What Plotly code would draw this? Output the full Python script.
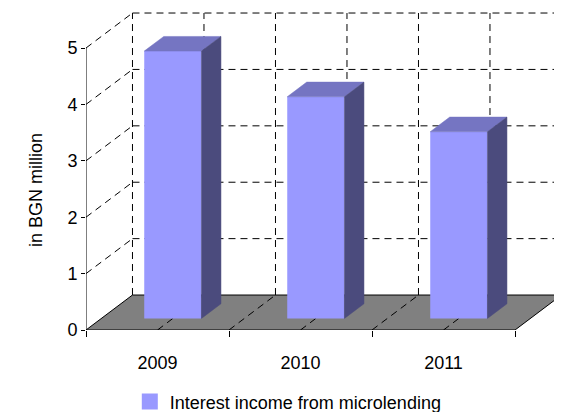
import plotly.graph_objects as go

# Data
years = ["2009", "2010", "2011"]
income = [4.74, 3.93, 3.31]   # interest income, BGN million
y_ticks = [0, 1, 2, 3, 4, 5]

# pseudo 3D projection (oblique): depth 1 shifts by DX categories / DY value units
DX = 0.325
DY = 0.62
D0, D1 = 0.33, 0.75      # bar front / back depth
BAR_W = 0.4

front_col = "#9999FF"
top_col = "#7575C2"
side_col = "#4B4B7D"
font = "Liberation Sans, Arial, sans-serif"
series_name = "Interest income from microlending"

n = len(years)
pos = list(range(n))
ymax = max(y_ticks)

fig = go.Figure()

# front faces of the bars
fig.add_bar(
    x=[i + 0.5 + D0 * DX for i in pos],
    y=income,
    base=D0 * DY,
    width=BAR_W,
    marker_color=front_col,
    marker_line_width=0,
    name=series_name,
    showlegend=False,
    hoverinfo="skip",
)

# top and side faces
for i, v in zip(pos, income):
    xl, xr = i + 0.5 - BAR_W / 2, i + 0.5 + BAR_W / 2
    fig.add_scatter(
        x=[xl + D0 * DX, xr + D0 * DX, xr + D1 * DX, xl + D1 * DX, xl + D0 * DX],
        y=[v + D0 * DY, v + D0 * DY, v + D1 * DY, v + D1 * DY, v + D0 * DY],
        mode="lines", fill="toself", fillcolor=top_col,
        line=dict(color=top_col, width=0.5), showlegend=False, hoverinfo="skip",
    )
    fig.add_scatter(
        x=[xr + D0 * DX, xr + D0 * DX, xr + D1 * DX, xr + D1 * DX, xr + D0 * DX],
        y=[D0 * DY, v + D0 * DY, v + D1 * DY, D1 * DY, D0 * DY],
        mode="lines", fill="toself", fillcolor=side_col,
        line=dict(color=side_col, width=0.5), showlegend=False, hoverinfo="skip",
    )

# legend entry with a bigger square key
fig.add_scatter(
    x=[None], y=[None], mode="markers", name=series_name,
    marker=dict(symbol="square", size=16, color=front_col),
)

shapes = []
dash = dict(color="black", width=1, dash="7px,5px")

# floor
shapes.append(dict(
    type="path", layer="below",
    path=f"M 0,0 L {n},0 L {n + DX},{DY} L {DX},{DY} Z",
    fillcolor="#808080", line=dict(color="black", width=1),
))
# floor dashed lines
for k in range(1, 2 * n):
    shapes.append(dict(type="line", layer="below", x0=k / 2, y0=0,
                       x1=k / 2 + DX, y1=DY, line=dash))
# back wall horizontal lines
for t in y_ticks[1:]:
    shapes.append(dict(type="line", layer="below", x0=DX, y0=t + DY,
                       x1=n + DX, y1=t + DY, line=dash))
    # side wall diagonals
    shapes.append(dict(type="line", layer="below", x0=0, y0=t,
                       x1=DX, y1=t + DY, line=dash))
# back wall vertical lines
for k in range(0, 2 * n):
    shapes.append(dict(type="line", layer="below", x0=k / 2 + DX, y0=DY,
                       x1=k / 2 + DX, y1=ymax + DY, line=dash))
# front value axis line
shapes.append(dict(type="line", layer="below", x0=0, y0=0, x1=0, y1=ymax,
                   line=dict(color="black", width=1)))

# page has an 8px body margin, so the figure is laid out 8px up/left
fig.add_annotation(
    text="in BGN million", xref="paper", yref="paper",
    x=-0.13, y=0.435, textangle=-90, showarrow=False,
    font=dict(family=font, size=18, color="black"),
)

fig.update_layout(
    width=562, height=412,
    margin=dict(l=78, r=8, t=0, b=90),
    plot_bgcolor="white", paper_bgcolor="white",
    font=dict(family=font, size=18, color="black"),
    shapes=shapes,
    showlegend=True,
    legend=dict(orientation="h", x=0.425, xanchor="center",
                yref="container", y=0.044, yanchor="middle",
                font=dict(size=18), itemsizing="trace"),
    xaxis=dict(
        range=[0, 476 / 143], tickvals=[p + 0.5 for p in pos], ticktext=years,
        ticks="", showgrid=False, zeroline=False, showline=False,
        ticklabelstandoff=20,
        minor=dict(tickmode="array", tickvals=list(range(n + 1)),
                   ticks="outside", ticklen=6, tickcolor="black", showgrid=False),
    ),
    yaxis=dict(
        range=[0, 322 / 56.4], tickvals=y_ticks, ticks="outside", ticklen=4,
        tickcolor="black", showgrid=False, zeroline=False, showline=False,
        tickfont=dict(size=18),
    ),
)

fig.write_html("out.html")
